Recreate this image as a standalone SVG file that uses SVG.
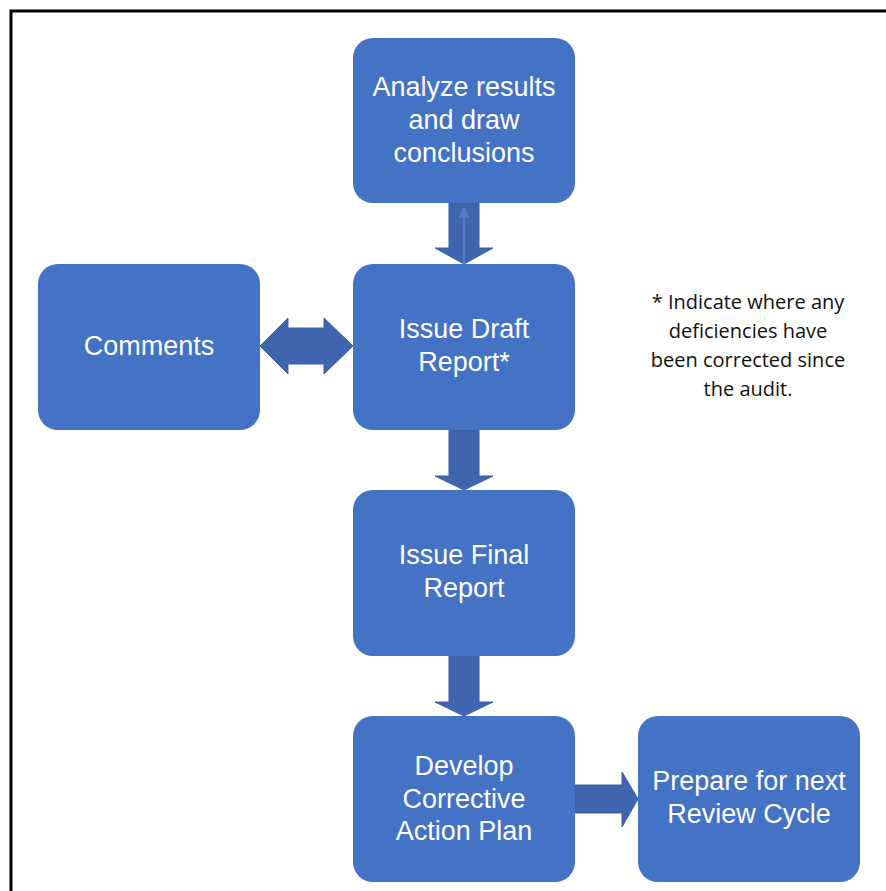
<svg xmlns="http://www.w3.org/2000/svg" width="886" height="891" viewBox="0 0 886 891">
<style>
.box{fill:#4472C4;}
.lbl{fill:#ffffff;font-family:"Liberation Sans",Arial,sans-serif;font-size:27px;text-anchor:middle;}
.arr{fill:#3F65AE;stroke:#3A5FA6;stroke-width:1;}
.note{fill:#111111;font-family:"Open Sans","Liberation Sans",sans-serif;font-size:20px;text-anchor:middle;}
</style>
<rect width="886" height="891" fill="#ffffff"/>
<path d="M11,891 V11 H886" fill="none" stroke="#000000" stroke-width="3"/>
<g id="connectors">
<path class="arr" d="M449,203 H479 V248 H493 L464,264 L435,248 H449 Z"/>
<line x1="464" y1="264" x2="464" y2="216" stroke="#5A86D2" stroke-width="1.5"/>
<path d="M458,218 L464,206 L470,218 Z" fill="#4F7CCB"/>
<path class="arr" d="M449,430 H479 V476 H493 L464,490 L435,476 H449 Z"/>
<path class="arr" d="M449,656 H479 V702 H493 L464,716 L435,702 H449 Z"/>
<path class="arr" d="M260,346 L288,318 V328 H324 V318 L353,346 L324,374 V364 H288 V374 Z"/>
<path class="arr" d="M575,785 H622 V772 L638,799 L622,827 V813 H575 Z"/>
</g>
<g id="analyze">
<rect class="box" x="353" y="38" width="222" height="165" rx="20"/>
<text class="lbl" x="464" y="96">Analyze results</text>
<text class="lbl" x="464" y="129">and draw</text>
<text class="lbl" x="464" y="162">conclusions</text>
</g>
<g id="comments">
<rect class="box" x="38" y="264" width="222" height="166" rx="20"/>
<text class="lbl" x="149" y="355">Comments</text>
</g>
<g id="draft">
<rect class="box" x="353" y="264" width="222" height="166" rx="20"/>
<text class="lbl" x="464" y="338">Issue Draft</text>
<text class="lbl" x="464" y="371">Report*</text>
</g>
<g id="final">
<rect class="box" x="353" y="490" width="222" height="166" rx="20"/>
<text class="lbl" x="464" y="564">Issue Final</text>
<text class="lbl" x="464" y="597">Report</text>
</g>
<g id="develop">
<rect class="box" x="353" y="716" width="222" height="166" rx="20"/>
<text class="lbl" x="464" y="775">Develop</text>
<text class="lbl" x="464" y="808">Corrective</text>
<text class="lbl" x="464" y="840">Action Plan</text>
</g>
<g id="prepare">
<rect class="box" x="638" y="716" width="222" height="166" rx="20"/>
<text class="lbl" x="749" y="790">Prepare for next</text>
<text class="lbl" x="749" y="823">Review Cycle</text>
</g>
<g id="note">
<text class="note" x="748" y="309">* Indicate where any</text>
<text class="note" x="748" y="338">deficiencies have</text>
<text class="note" x="748" y="367">been corrected since</text>
<text class="note" x="748" y="396">the audit.</text>
</g>
</svg>
